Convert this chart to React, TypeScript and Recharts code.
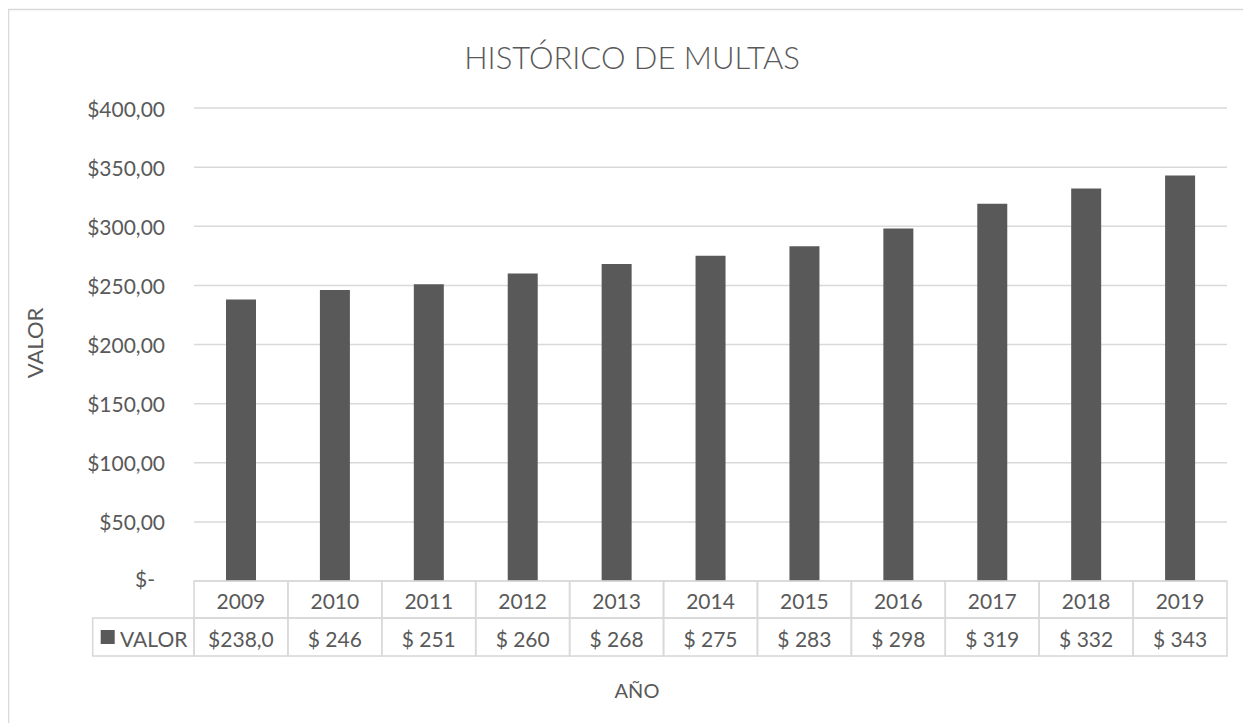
import React from 'react';
import { BarChart, Bar, XAxis, YAxis, CartesianGrid } from 'recharts';

const years = ['2009', '2010', '2011', '2012', '2013', '2014', '2015', '2016', '2017', '2018', '2019'];
const values = [238, 246, 251, 260, 268, 275, 283, 298, 319, 332, 343];
const valueLabels = ['$238,0', '$ 246', '$ 251', '$ 260', '$ 268', '$ 275', '$ 283', '$ 298', '$ 319', '$ 332', '$ 343'];
const yTicks = [0, 50, 100, 150, 200, 250, 300, 350, 400];
const seriesName = 'VALOR';

const data = years.map((y, i) => ({ year: y, value: values[i] }));

const W = 1243;
const H = 715;
const PLOT_LEFT = 186;
const PLOT_RIGHT = 1219;
const PLOT_TOP = 100;
const PLOT_BOTTOM = 573;
const CELL_W = (PLOT_RIGHT - PLOT_LEFT) / years.length;
const ROW1_H = 37;
const ROW2_H = 38;
const GRID = '#d9d9d9';
const TEXT = '#595959';
const BAR = '#595959';
const FONT = 'Lato, "Open Sans", sans-serif';

const fmtY = (v: number) => (v === 0 ? '$-' : `$${v},00`);

const YTick = (props: any) => {
  const { x, y, payload } = props;
  const isZero = payload.value === 0;
  return (
    <text
      x={isZero ? x - 10 : x}
      y={isZero ? y - 3 : y}
      textAnchor="end"
      dominantBaseline="central"
      fill={TEXT}
      fontSize={21}
      fontFamily={FONT}
    >
      {fmtY(payload.value)}
    </text>
  );
};

const YearCell = (props: any) => {
  const { x, y, payload } = props;
  return (
    <g>
      <rect x={x - CELL_W / 2} y={y} width={CELL_W} height={ROW1_H} fill="none" stroke={GRID} strokeWidth={1.6} />
      <text x={x} y={y + ROW1_H / 2 + 1} textAnchor="middle" dominantBaseline="central" fill={TEXT} fontSize={21} fontFamily={FONT}>
        {payload.value}
      </text>
    </g>
  );
};

const ValueCell = (props: any) => {
  const { x, y, index } = props;
  return (
    <g>
      {index === 0 && (
        <g>
          <rect x={84.7} y={y} width={x - CELL_W / 2 - 84.7} height={ROW2_H} fill="none" stroke={GRID} strokeWidth={1.6} />
          <rect x={92.7} y={y + ROW2_H / 2 - 7} width={14} height={14} fill={BAR} />
          <text x={112} y={y + ROW2_H / 2 + 1} textAnchor="start" dominantBaseline="central" fill={TEXT} fontSize={21} fontFamily={FONT}>
            {seriesName}
          </text>
        </g>
      )}
      <rect x={x - CELL_W / 2} y={y} width={CELL_W} height={ROW2_H} fill="none" stroke={GRID} strokeWidth={1.6} />
      <text x={x} y={y + ROW2_H / 2 + 1} textAnchor="middle" dominantBaseline="central" fill={TEXT} fontSize={21} fontFamily={FONT}>
        {valueLabels[index]}
      </text>
    </g>
  );
};

export default function App() {
  return (
    <div style={{ position: 'relative', width: W, height: H, background: '#fff' }}>
      <svg width={W} height={H} style={{ position: 'absolute', left: 0, top: 0 }}>
        <rect x={0.5} y={1.5} width={W + 20} height={H + 20} fill="#fff" stroke={GRID} strokeWidth={1.5} />
      </svg>
      <div style={{ position: 'absolute', left: 0, top: 0 }}>
        <BarChart
          width={W}
          height={H}
          data={data}
          margin={{ top: PLOT_TOP, right: W - PLOT_RIGHT, bottom: H - PLOT_BOTTOM - ROW1_H - ROW2_H, left: 0 }}
          barSize={30}
        >
          <text x={624} y={49} textAnchor="middle" dominantBaseline="central" fill={TEXT} fontSize={31} fontWeight={300} fontFamily={FONT}>
            HISTÓRICO DE MULTAS
          </text>
          <text
            x={26}
            y={335}
            textAnchor="middle"
            dominantBaseline="central"
            fill={TEXT}
            fontSize={22}
            fontFamily={FONT}
            transform="rotate(-90 26 335)"
          >
            VALOR
          </text>
          <text x={629} y={682} textAnchor="middle" dominantBaseline="central" fill={TEXT} fontSize={20} fontFamily={FONT}>
            AÑO
          </text>
          <CartesianGrid vertical={false} stroke={GRID} strokeWidth={1.5} />
          <YAxis
            width={PLOT_LEFT}
            domain={[0, 400]}
            ticks={yTicks}
            axisLine={false}
            tickLine={false}
            tickSize={0}
            tickMargin={29}
            tick={<YTick />}
          />
          <XAxis
            xAxisId={0}
            dataKey="year"
            height={ROW1_H}
            axisLine={false}
            tickLine={false}
            tickSize={0}
            tickMargin={0}
            interval={0}
            tick={<YearCell />}
          />
          <XAxis
            xAxisId={1}
            dataKey="year"
            height={ROW2_H}
            axisLine={false}
            tickLine={false}
            tickSize={0}
            tickMargin={0}
            interval={0}
            tick={<ValueCell />}
          />
          <Bar dataKey="value" name={seriesName} xAxisId={0} fill={BAR} isAnimationActive={false} />
        </BarChart>
      </div>
    </div>
  );
}
